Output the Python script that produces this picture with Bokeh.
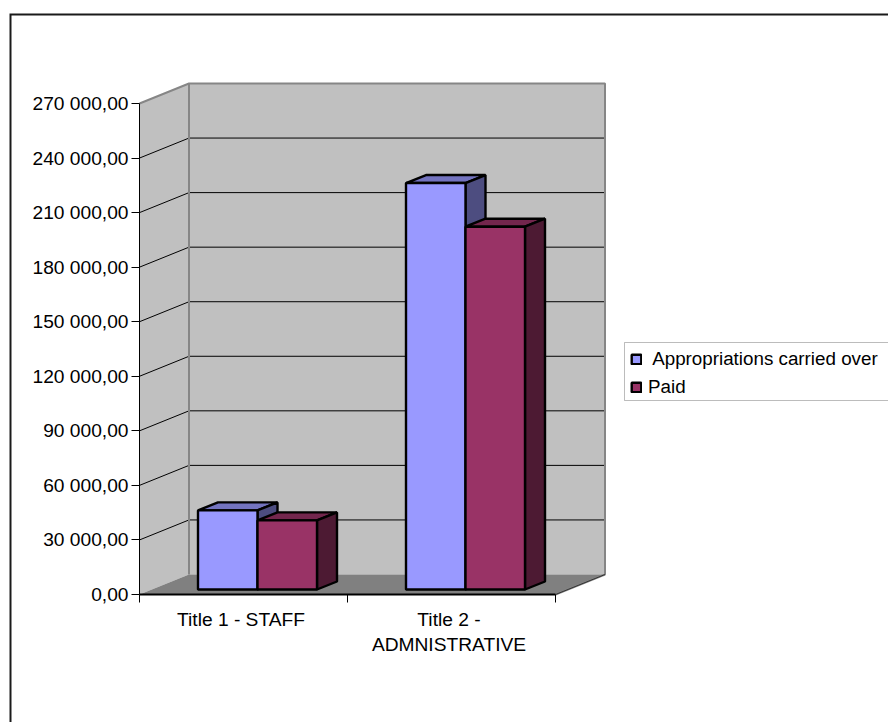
from bokeh.embed import file_html
from bokeh.models import (BoxAnnotation, ColumnDataSource, FixedTicker, Legend, LegendItem,
                          LinearAxis, Range1d)
from bokeh.plotting import figure
from bokeh.resources import INLINE

categories = ["Title 1 - STAFF", "Title 2 -\nADMNISTRATIVE"]
series_names = [" Appropriations carried over", "Paid"]
appropriations = [43500, 223500]
paid = [38000, 199500]
y_ticks = [0, 30000, 60000, 90000, 120000, 150000, 180000, 210000, 240000, 270000]
y_labels = ["0,00", "30 000,00", "60 000,00", "90 000,00", "120 000,00", "150 000,00",
            "180 000,00", "210 000,00", "240 000,00", "270 000,00"]

FRONT = ["#9999ff", "#993366"]
TOP = ["#7373bf", "#73264d"]
SIDE = ["#4d4d80", "#4d1a33"]
WALL = "#c0c0c0"
FLOOR = "#808080"
EDGE = "#868686"
FONT = "Liberation Sans"
AXIS_FONT_SIZE = "19.2px"
LEGEND_FONT_SIZE = "18.8px"

WIDTH, HEIGHT = 888, 722
CAT_PX = 208.0
VAL_PX = 270000 / 491.0
X0_PX, Y0_PX = 139.0, 594.0


def px_x(px):
    return (px - X0_PX) / CAT_PX


def px_y(px):
    return (Y0_PX - px) * VAL_PX


# Oblique projection of the box: depth in category units and value units
DEPTH_X = 49.5 / CAT_PX
DEPTH_Y = 20.0 * VAL_PX
BAR_W = 59.5 / CAT_PX
BAR_PAD = 58.5 / CAT_PX
BAR_DEPTH_X = 20.0 / CAT_PX
BAR_DEPTH_Y = 8.0 * VAL_PX
BAR_BASE = 5.0 * VAL_PX
VMAX = y_ticks[-1]
NCAT = len(categories)

p = figure(width=WIDTH, height=HEIGHT, output_backend="svg", toolbar_location=None,
           x_range=Range1d(px_x(0), px_x(WIDTH)),
           y_range=Range1d(px_y(HEIGHT), px_y(0)),
           x_axis_type=None, y_axis_type=None, min_border=0,
           background_fill_color="white", border_fill_color="white", outline_line_color=None)
p.grid.visible = False

# Frame of the chart area, open towards the right and bottom
p.line([px_x(10), px_x(10), px_x(WIDTH)], [px_y(HEIGHT), px_y(14), px_y(14)],
       line_color="#1a1a1a", line_width=2, line_join="miter")

# Walls and floor of the box
p.patch([0, DEPTH_X, DEPTH_X, 0], [0, DEPTH_Y, VMAX + DEPTH_Y, VMAX],
        fill_color=WALL, line_color=None)
p.patch([DEPTH_X, NCAT + DEPTH_X, NCAT + DEPTH_X, DEPTH_X],
        [DEPTH_Y, DEPTH_Y, VMAX + DEPTH_Y, VMAX + DEPTH_Y], fill_color=WALL, line_color=None)
p.patch([0, DEPTH_X, NCAT + DEPTH_X, NCAT], [0, DEPTH_Y, DEPTH_Y, 0],
        fill_color=FLOOR, line_color=None)

# Gridlines run along the side wall and across the back wall
for v in y_ticks[1:-1]:
    p.line([0, DEPTH_X, NCAT + DEPTH_X], [v, v + DEPTH_Y, v + DEPTH_Y],
           line_color="black", line_width=1)

p.line([0, DEPTH_X, NCAT + DEPTH_X, NCAT + DEPTH_X, NCAT],
       [VMAX, VMAX + DEPTH_Y, VMAX + DEPTH_Y, DEPTH_Y, 0], line_color=EDGE, line_width=2)
p.line([DEPTH_X, DEPTH_X], [DEPTH_Y, VMAX + DEPTH_Y], line_color=EDGE, line_width=2)
p.line([NCAT, NCAT + DEPTH_X], [0, DEPTH_Y], line_color="#333333", line_width=1)

# Bars, drawn left to right so each front hides its neighbour's side
renderers = []
for s, values in enumerate([appropriations, paid]):
    left = [c + BAR_PAD + s * BAR_W for c in range(NCAT)]
    right = [x + BAR_W for x in left]
    top = [BAR_BASE + v for v in values]
    src = ColumnDataSource(dict(left=left, right=right, top=top, bottom=[BAR_BASE] * NCAT))
    for l, r, t in zip(left, right, top):
        p.patch([l, r, r + BAR_DEPTH_X, l + BAR_DEPTH_X],
                [t, t, t + BAR_DEPTH_Y, t + BAR_DEPTH_Y],
                fill_color=TOP[s], line_color="black", line_width=2.4, line_join="bevel")
        p.patch([r, r + BAR_DEPTH_X, r + BAR_DEPTH_X, r],
                [BAR_BASE, BAR_BASE + BAR_DEPTH_Y, t + BAR_DEPTH_Y, t],
                fill_color=SIDE[s], line_color="black", line_width=2.4, line_join="bevel")
    renderers.append(p.quad(left="left", right="right", top="top", bottom="bottom", source=src,
                            fill_color=FRONT[s], line_color="black", line_width=2.4))

# Value axis at the front-left corner of the box
y_axis = LinearAxis(fixed_location=0, ticker=FixedTicker(ticks=y_ticks),
                    major_label_overrides=dict(zip(y_ticks, y_labels)),
                    bounds=(0, VMAX), axis_line_color="black", axis_line_width=1,
                    major_tick_line_color="black", major_tick_out=8, major_tick_in=0,
                    minor_tick_line_color=None, major_label_standoff=3,
                    major_label_text_font=FONT, major_label_text_font_size=AXIS_FONT_SIZE,
                    major_label_text_color="black")
p.add_layout(y_axis, "left")

# Category axis: separators on whole numbers, names centred between them
x_axis = LinearAxis(fixed_location=0, ticker=FixedTicker(ticks=list(range(NCAT + 1))),
                    bounds=(0, NCAT), axis_line_color="black", axis_line_width=2,
                    major_tick_line_color="black", major_tick_out=8, major_tick_in=0,
                    minor_tick_line_color=None, major_label_text_color=None,
                    major_label_text_font_size="1px")
p.add_layout(x_axis, "below")
name_ticks = [c + 0.5 - 2.5 / CAT_PX for c in range(NCAT)]
name_axis = LinearAxis(fixed_location=0, ticker=FixedTicker(ticks=name_ticks),
                       major_label_overrides=dict(zip(name_ticks, categories)),
                       axis_line_color=None, major_tick_line_color=None, major_tick_out=0,
                       major_tick_in=0, minor_tick_line_color=None, major_label_standoff=14,
                       major_label_text_font=FONT, major_label_text_font_size=AXIS_FONT_SIZE,
                       major_label_text_color="black")
p.add_layout(name_axis, "below")

# Legend panel runs off the right edge of the page
p.add_layout(BoxAnnotation(left=px_x(624), right=px_x(WIDTH + 10), top=px_y(342), bottom=px_y(400),
                           fill_color="white", fill_alpha=1, line_color="#222222", line_width=1))
legend = Legend(items=[LegendItem(label=n, renderers=[r]) for n, r in zip(series_names, renderers)],
                location=(630, HEIGHT - 398), orientation="vertical",
                label_text_font=FONT, label_text_font_size=LEGEND_FONT_SIZE,
                label_text_color="black", glyph_width=12, glyph_height=12, padding=4, spacing=6,
                margin=0, label_standoff=6, border_line_color=None, background_fill_alpha=0)
p.add_layout(legend)

open("out.html", "w").write(file_html(p, INLINE))
